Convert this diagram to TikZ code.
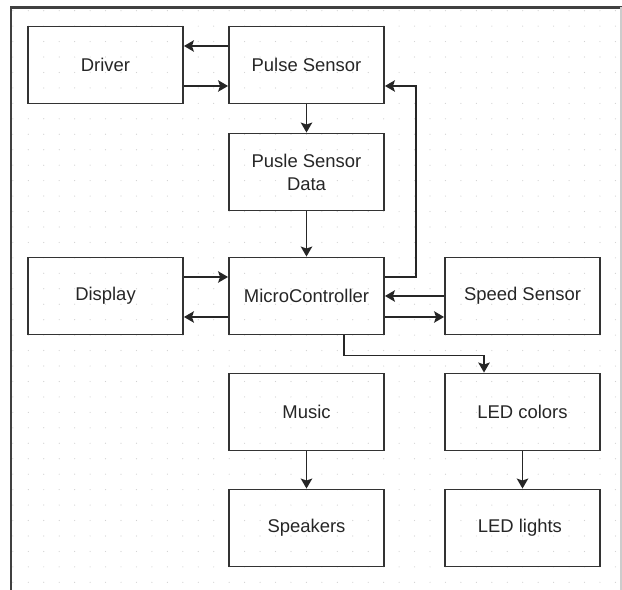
\documentclass[tikz,border=0pt]{standalone}
\usepackage{fontspec}
\setmainfont{Liberation Sans}
\usetikzlibrary{arrows.meta}
\begin{document}
\begin{tikzpicture}[x=0.02cm, y=-0.02cm, font=\fontsize{10.5}{13}\selectfont,
    block/.style={draw=black!80, line width=1.1pt, minimum width=3.1cm, minimum height=1.54cm,
      inner sep=0pt, align=center, text=black!85},
    flow/.style={draw=black!85, line width=0.8pt, -{Stealth[length=2mm, width=2.3mm, inset=0.4mm]}}]
  \useasboundingbox (0,0) rectangle (622,590);
  \foreach \i in {0,...,39}
    \foreach \j in {0,...,37}
      \fill[black!18] (12.85+15.45*\i, 10.7+15.45*\j) circle (0.012cm);
  \draw[black!75, line width=1.5pt] (11,590) -- (11,7.5) -- (622,7.5);
  \draw[black!20, line width=0.6pt] (621,7.5) -- (621,590);
  \foreach \nm/\x/\y/\txt in {
      driver/105.5/65/Driver,
      pulse/306.5/65/Pulse Sensor,
      pdata/306.5/172/Pusle Sensor\\Data,
      display/105.5/296/Display,
      mcu/306.5/296/MicroController,
      speed/522.5/296/Speed Sensor,
      music/306.5/412/Music,
      ledc/522.5/412/LED colors,
      speak/306.5/528/Speakers,
      ledl/522.5/528/LED lights
  }
    \node[block] (\nm) at (\x,\y) {\txt};
  \draw[flow] ([yshift=0.38cm]pulse.west) -- ([yshift=0.38cm]driver.east);
  \draw[flow] ([yshift=-0.42cm]driver.east) -- ([yshift=-0.42cm]pulse.west);
  \draw[flow] (pulse) -- (pdata);
  \draw[flow] (pdata) -- (mcu);
  \draw[flow] ([yshift=0.38cm]mcu.east) -- ++(0.62cm,0) |- ([yshift=-0.42cm]pulse.east);
  \draw[flow] ([yshift=0.38cm]display.east) -- ([yshift=0.38cm]mcu.west);
  \draw[flow] ([yshift=-0.42cm]mcu.west) -- ([yshift=-0.42cm]display.east);
  \draw[flow] (speed) -- (mcu);
  \draw[flow] ([yshift=-0.42cm]mcu.east) -- ([yshift=-0.42cm]speed.west);
  \draw[flow] ([xshift=0.75cm]mcu.south) -- ++(0,-0.4cm) -| ([xshift=-0.77cm]ledc.north);
  \draw[flow] (music) -- (speak);
  \draw[flow] (ledc) -- (ledl);
\end{tikzpicture}
\end{document}
